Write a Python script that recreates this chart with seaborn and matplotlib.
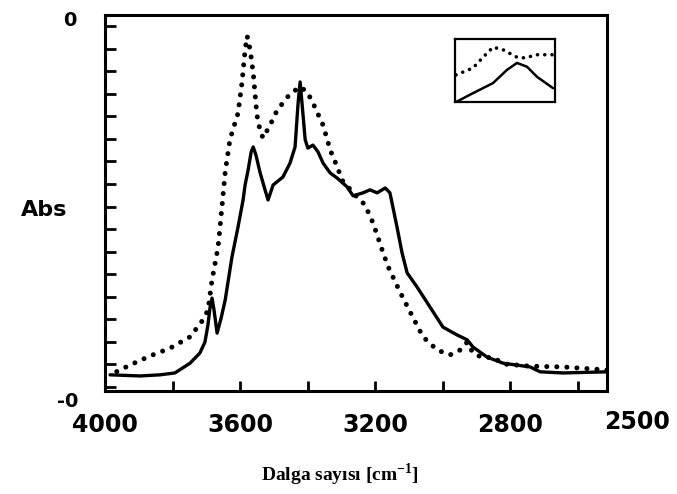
import numpy as np
import pandas as pd
import seaborn as sns
import matplotlib
matplotlib.use("Agg")
import matplotlib.pyplot as plt

# ---- data ----
wn_dot = [3985, 3926, 3867, 3807, 3748, 3710, 3695, 3683, 3665, 3653, 3644, 3630, 3624,
          3606, 3594, 3585, 3579, 3570, 3561, 3550, 3541, 3532, 3511, 3490, 3452, 3422,
          3401, 3384, 3354, 3333, 3312, 3298, 3259, 3230, 3206, 3176, 3161, 3126, 3096,
          3058, 3016, 2978, 2948, 2927, 2910, 2880, 2850, 2821, 2741, 2643, 2513]
abs_dot = [0.043, 0.069, 0.093, 0.114, 0.144, 0.189, 0.215, 0.295, 0.383, 0.495, 0.582,
           0.668, 0.686, 0.739, 0.822, 0.907, 0.944, 0.907, 0.846, 0.734, 0.694, 0.673,
           0.707, 0.747, 0.790, 0.809, 0.795, 0.766, 0.707, 0.641, 0.596, 0.561, 0.521,
           0.495, 0.447, 0.367, 0.330, 0.263, 0.210, 0.144, 0.109, 0.096, 0.109, 0.130,
           0.101, 0.088, 0.090, 0.072, 0.066, 0.064, 0.056]

wn_sol = [3985, 3896, 3837, 3793, 3748, 3719, 3704, 3695, 3689, 3683, 3677, 3668, 3656,
          3644, 3624, 3606, 3591, 3585, 3576, 3567, 3561, 3553, 3541, 3526, 3517, 3502,
          3473, 3452, 3437, 3428, 3422, 3416, 3407, 3399, 3384, 3369, 3354, 3333, 3312,
          3283, 3265, 3236, 3215, 3194, 3170, 3156, 3135, 3120, 3105, 3076, 3037, 2999,
          2957, 2927, 2910, 2868, 2821, 2741, 2711, 2643, 2513]
abs_sol = [0.043, 0.040, 0.043, 0.048, 0.074, 0.101, 0.130, 0.176, 0.221, 0.247, 0.215,
           0.154, 0.194, 0.242, 0.356, 0.436, 0.508, 0.548, 0.588, 0.636, 0.649, 0.628,
           0.582, 0.535, 0.508, 0.548, 0.569, 0.606, 0.649, 0.766, 0.822, 0.761, 0.668,
           0.646, 0.654, 0.636, 0.606, 0.580, 0.566, 0.543, 0.519, 0.527, 0.535, 0.527,
           0.540, 0.527, 0.436, 0.367, 0.314, 0.277, 0.223, 0.170, 0.149, 0.136, 0.117,
           0.090, 0.074, 0.064, 0.051, 0.048, 0.051]

inset_x_dot = [0.01, 0.18, 0.28, 0.38, 0.48, 0.62, 0.70, 0.82, 0.98]
inset_y_dot = [0.43, 0.54, 0.71, 0.87, 0.83, 0.71, 0.70, 0.75, 0.75]
inset_x_sol = [0.01, 0.18, 0.38, 0.52, 0.62, 0.72, 0.82, 0.98]
inset_y_sol = [0.00, 0.14, 0.30, 0.51, 0.62, 0.56, 0.40, 0.22]

x_tick_labels = ["4000", "3600", "3200", "2800"]
x_tick_values = [4000, 3600, 3200, 2800]

sns.set_style("ticks")
plt.rcParams["font.family"] = ["DejaVu Sans"]
plt.rcParams["text.color"] = "black"
plt.rcParams["axes.labelcolor"] = "black"
plt.rcParams["xtick.color"] = "black"
plt.rcParams["ytick.color"] = "black"
plt.rcParams["xtick.labelcolor"] = "black"
plt.rcParams["mathtext.fontset"] = "custom"
plt.rcParams["mathtext.rm"] = "Liberation Serif:bold"
plt.rcParams["mathtext.bf"] = "Liberation Serif:bold"

W, H = 677, 494
fig = plt.figure(figsize=(W / 100, H / 100), dpi=100)
ax = fig.add_axes([105 / W, 1 - 391 / H, (607 - 105) / W, (391 - 15) / H])

dot_style = dict(color="black", lw=3.6, linestyle=(0, (0.01, 2.0)),
                 dash_capstyle="round")
sol_style = dict(color="black", lw=2.4)

df_dot = pd.DataFrame({"wn": wn_dot, "abs": abs_dot})
df_sol = pd.DataFrame({"wn": wn_sol, "abs": abs_sol})
sns.lineplot(data=df_dot, x="wn", y="abs", ax=ax, **dot_style)
sns.lineplot(data=df_sol, x="wn", y="abs", ax=ax, **sol_style)

ax.set_xlim(4000, 2513)
ax.set_ylim(0, 1)
for s in ax.spines.values():
    s.set_visible(True)
    s.set_linewidth(2.2)
    s.set_color("black")

ax.set_xticks(x_tick_values, x_tick_labels)
ax.set_xticks([3800, 3400, 3000, 2600], minor=True)
ax.tick_params(axis="x", which="both", direction="in", length=7, width=2,
               color="black", pad=16, labelsize=17, labelcolor="black")
for lbl in ax.get_xticklabels():
    lbl.set_fontweight("bold")
ax.set_yticks([])
ax.set_yticks(0.0106 + 0.06 * np.arange(17), minor=True)
ax.tick_params(axis="y", which="minor", direction="in", length=8, width=2,
               color="black", labelleft=False)
ax.set_xlabel("")
ax.set_ylabel("")

fig.text(637 / W, 1 - 422 / H, "2500", ha="center", va="center",
         fontsize=17, fontweight="bold", color="black")
fig.text(70 / W, 1 - 21 / H, "0", ha="center", va="center",
         fontsize=14, fontweight="bold", color="black")
fig.text(68 / W, 1 - 401 / H, "-0", ha="center", va="center",
         fontsize=14, fontweight="bold", color="black")
fig.text(44 / W, 1 - 210 / H, "Abs", ha="center", va="center",
         fontsize=16, fontweight="bold", color="black")
fig.text(340 / W, 1 - 475 / H, "Dalga sayısı [cm$^{-1}$]", ha="center",
         va="center", fontsize=14, fontweight="bold", family="Liberation Serif",
         color="black")

# inset
axi = fig.add_axes([455 / W, 1 - 102 / H, 100 / W, 63 / H])
sns.lineplot(x=inset_x_dot, y=inset_y_dot, ax=axi, color="black", lw=2.6,
             linestyle=(0, (0.01, 2.0)), dash_capstyle="round")
sns.lineplot(x=inset_x_sol, y=inset_y_sol, ax=axi, color="black", lw=1.8)
axi.set_xlim(0, 1)
axi.set_ylim(0, 1)
axi.set_xticks([])
axi.set_yticks([])
for s in axi.spines.values():
    s.set_visible(True)
    s.set_linewidth(1.6)
    s.set_color("black")

fig.savefig("out.png", dpi=100, facecolor="white")
